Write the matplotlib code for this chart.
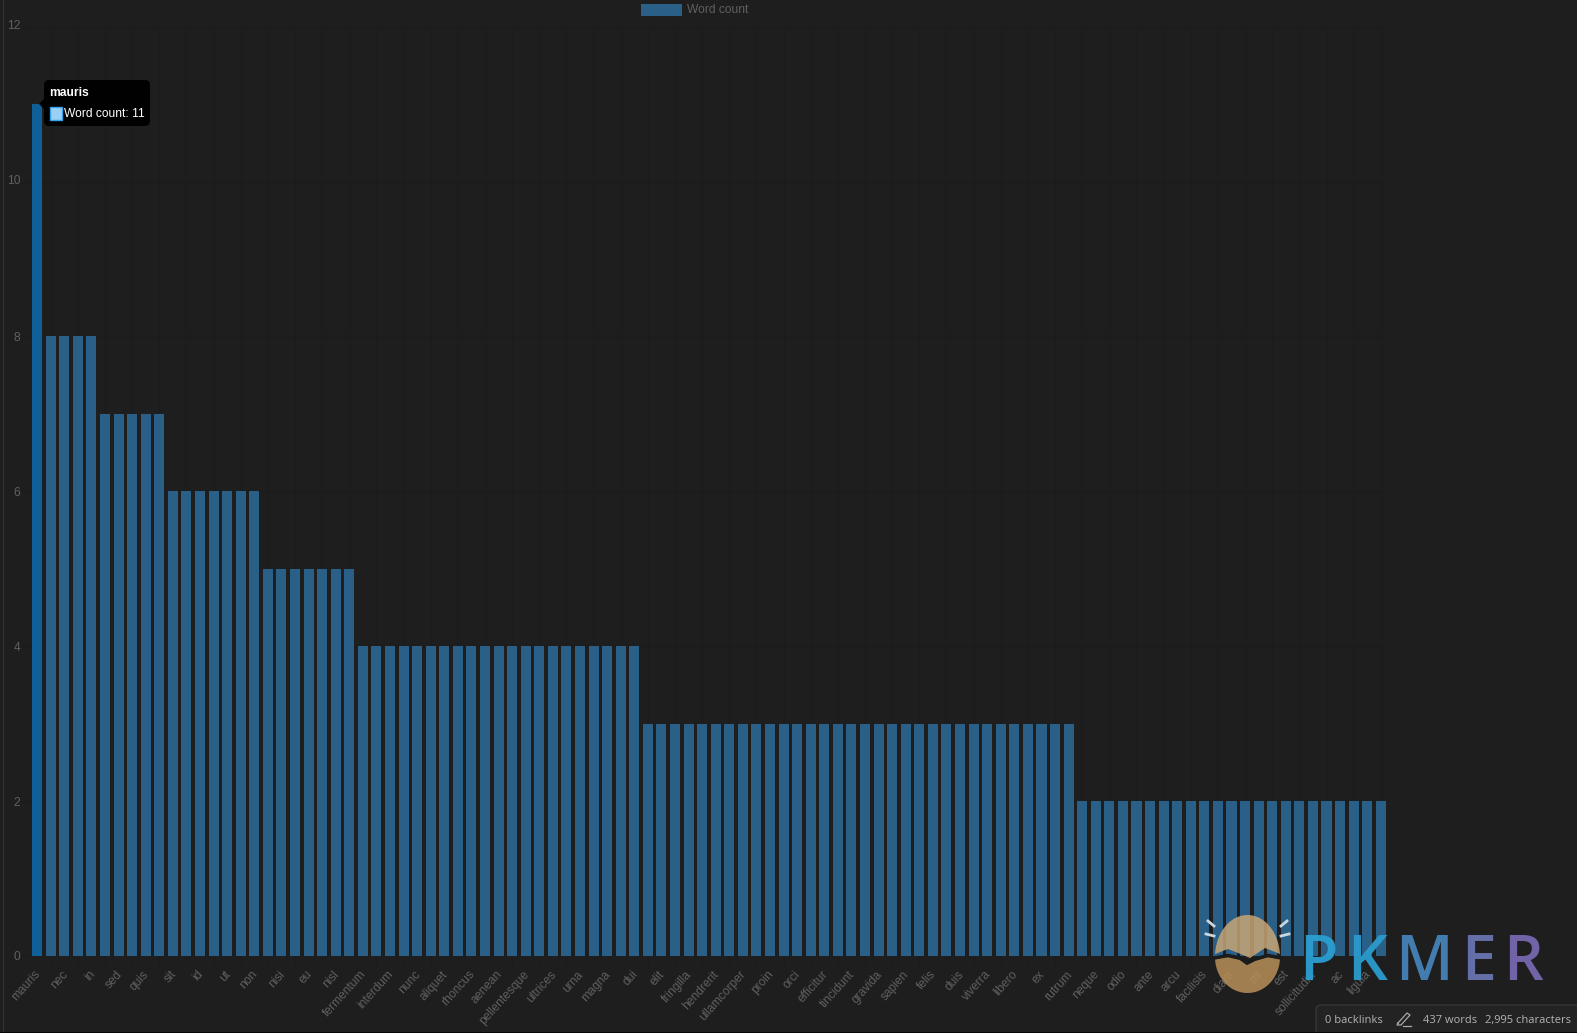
import numpy as np
import matplotlib
matplotlib.use("Agg")
import matplotlib.pyplot as plt
from matplotlib.patches import FancyBboxPatch, Polygon, Rectangle
from matplotlib.transforms import Affine2D

W, H = 1577, 1033
tick_labels = ["mauris", "nec", "in", "sed", "quis", "sit", "id", "ut", "non", "nisi",
               "eu", "nisl", "fermentum", "interdum", "nunc", "aliquet", "rhoncus", "aenean",
               "pellentesque", "ultrices", "urna", "magna", "dui", "elit", "fringilla",
               "hendrerit", "ullamcorper", "proin", "orci", "efficitur", "tincidunt", "gravida",
               "sapien", "felis", "duis", "viverra", "libero", "ex", "rutrum", "neque", "odio",
               "ante", "arcu", "facilisis", "diam", "mi", "est", "sollicitudin", "ac", "ligula"]
word_counts = [11,
               8, 8, 8, 8,
               7, 7, 7, 7, 7,
               6, 6, 6, 6, 6, 6, 6,
               5, 5, 5, 5, 5, 5, 5,
               4, 4, 4, 4, 4, 4, 4, 4, 4, 4, 4, 4, 4, 4, 4, 4, 4, 4, 4, 4, 4,
               3, 3, 3, 3, 3, 3, 3, 3, 3, 3, 3, 3, 3, 3, 3, 3,
               3, 3, 3, 3, 3, 3, 3, 3, 3, 3, 3, 3, 3, 3, 3, 3,
               2, 2, 2, 2, 2, 2, 2, 2, 2, 2, 2, 2, 2, 2, 2, 2, 2, 2, 2, 2, 2, 2, 2]
y_ticks = [0, 2, 4, 6, 8, 10, 12]

BG = "#1e1e1e"
BAR = "#2a5f88"
HOVER = "#0f5f99"
DIM = "#606060"
GRID = "#1c1c1c"
SANS = ["Liberation Sans", "DejaVu Sans"]
plt.rcParams["font.family"] = SANS

fig = plt.figure(figsize=(W / 100, H / 100), dpi=100, facecolor=BG)
px = Affine2D().scale(1, -1).translate(0, H)   # figure pixels, y downwards

L, R, T, B = 30.3, 1387.6, 26.7, 956.0
ax = fig.add_axes([L / W, 1 - B / H, (R - L) / W, (B - T) / H], facecolor=BG)
x = np.arange(len(word_counts))
colors = [HOVER] + [BAR] * (len(word_counts) - 1)
ax.bar(x, word_counts, width=0.74, color=colors, linewidth=0, zorder=3)
ax.set_xlim(-0.5, len(word_counts) - 0.5)
ax.set_ylim(0, 12)
for s in ax.spines.values():
    s.set_visible(False)

ax.set_yticks(y_ticks)
ax.set_yticklabels([str(v) for v in y_ticks], fontsize=8.64, color=DIM)
ax.tick_params(axis="y", length=5, width=1, color=GRID, pad=2)
ax.grid(axis="y", color=GRID, linewidth=1, zorder=1)
for v, lab in zip(y_ticks, ax.get_yticklabels()):
    if v >= 10:
        lab.set_transform(lab.get_transform() + Affine2D().translate(0, 2))

ax.set_xticks(x[::2])
ax.set_xticklabels(tick_labels, rotation=48, ha="right", va="top", rotation_mode="anchor",
                   fontsize=8.64, color=DIM)
ax.tick_params(axis="x", which="major", length=0, pad=9)
for lab in ax.get_xticklabels():
    lab.set_transform(lab.get_transform() + Affine2D().translate(-3, 0))
ax.set_xticks(x[1::2], minor=True)
ax.tick_params(axis="x", which="minor", length=7, width=1, color=GRID)
ax.grid(axis="x", which="minor", color=GRID, linewidth=1, zorder=1)
ax.set_axisbelow(True)

# legend
fig.add_artist(Rectangle((641, 4), 41, 12, transform=px, facecolor=BAR, edgecolor="none"))
fig.text(687, 10, "Word count", transform=px, fontsize=8.64, color=DIM, ha="left", va="center")

# window edges
fig.add_artist(Rectangle((2.5, 0), 1, H, transform=px, facecolor="#333333", edgecolor="none"))

# tooltip
fig.add_artist(FancyBboxPatch((48, 84), 98, 38, transform=px,
                              boxstyle="round,pad=4,rounding_size=5",
                              facecolor="#000000", edgecolor="none", alpha=0.95, zorder=6))
fig.add_artist(Polygon([(39, 104), (45, 98), (45, 110)], closed=True, transform=px,
                       facecolor="#000000", edgecolor="none", zorder=6))
fig.add_artist(Rectangle((49.7, 107), 12.5, 12.5, transform=px, facecolor="#9ad0f5",
                         edgecolor="#36a2eb", linewidth=1, zorder=7))
fig.text(49.5, 93.5, tick_labels[0], transform=px, fontsize=8.64, fontweight="bold",
         color="white", va="center", zorder=7)
fig.text(64.5, 114, f"Word count: {word_counts[0]}", transform=px, fontsize=8.64,
         color="white", va="center", zorder=7)

# status bar
fig.add_artist(FancyBboxPatch((1320, 1009), 270, 30, transform=px,
                              boxstyle="round,pad=4,rounding_size=5",
                              facecolor="#232323", edgecolor="#363636", linewidth=1, zorder=8))
fig.add_artist(Rectangle((0, 1031.5), W, 2, transform=px, facecolor="#050505",
                         edgecolor="none", zorder=8.5))
for tx, s in [(1325, "0 backlinks"), (1423, "437 words"), (1485, "2,995 characters")]:
    fig.text(tx, 1020.5, s, transform=px, fontsize=8.05, color="#b4b4b4", va="center",
             family=["Open Sans", "DejaVu Sans"], zorder=9)
fig.add_artist(plt.Line2D([1398, 1407, 1410, 1401, 1397, 1398], [1023, 1013, 1015, 1025, 1025, 1023],
                          transform=px, color="#a8a8a8", lw=0.9, zorder=9))
fig.add_artist(plt.Line2D([1403, 1411], [1026, 1026], transform=px, color="#a8a8a8", lw=0.9, zorder=9))

# watermark: cracked egg logo
cx, cy, rx = 1247.5, 957.0, 32.5
a = np.radians(np.linspace(180, 0, 61))
dome = np.c_[cx + rx * np.cos(a), cy - 42 * np.sin(a)]
top_crack = [(1280, 954), (1265, 948), (1250, 958), (1243, 955), (1228, 949), (1215, 954)]
fig.add_artist(Polygon(np.r_[dome, top_crack], closed=True, transform=px,
                       facecolor="#cfa976", edgecolor="none", alpha=0.82, zorder=5))
a2 = np.radians(np.linspace(0, 180, 61))
bowl = np.c_[cx + rx * np.cos(a2), cy + 36 * np.sin(a2)]
bot_crack = [(1215, 959), (1228, 957), (1240, 960), (1247, 965), (1255, 961), (1268, 957), (1280, 959)]
fig.add_artist(Polygon(np.r_[bowl, bot_crack], closed=True, transform=px,
                       facecolor="#b8905a", edgecolor="none", alpha=0.85, zorder=5))
mid_crack = np.array([(1214, 958), (1228, 955.5), (1240, 958), (1247, 963), (1255, 959), (1268, 955.5), (1281, 958)])
fig.add_artist(plt.Line2D(mid_crack[:, 0], mid_crack[:, 1], transform=px, color="#1b1b1b", lw=2.5, zorder=5))
for (x0, y0, x1, y1) in [(1208, 921, 1214, 926), (1206, 934, 1214, 936),
                         (1287, 921, 1281, 926), (1289, 934, 1281, 936)]:
    fig.add_artist(plt.Line2D([x0, x1], [y0, y1], transform=px, color="#c9d6df", lw=2, zorder=5))
for xp, ch, col in [(1299, "P", "#2a9fd2"), (1347, "K", "#2b9bcc"), (1395, "M", "#4682b8"),
                    (1461, "E", "#6874ae"), (1503, "R", "#7766ae")]:
    fig.text(xp, 980, ch, transform=px, fontsize=45, fontweight="semibold", color=col,
             ha="left", va="baseline", alpha=0.95, zorder=5,
             family=["Open Sans", "DejaVu Sans"])

fig.savefig("out.png", dpi=100, facecolor=BG)
